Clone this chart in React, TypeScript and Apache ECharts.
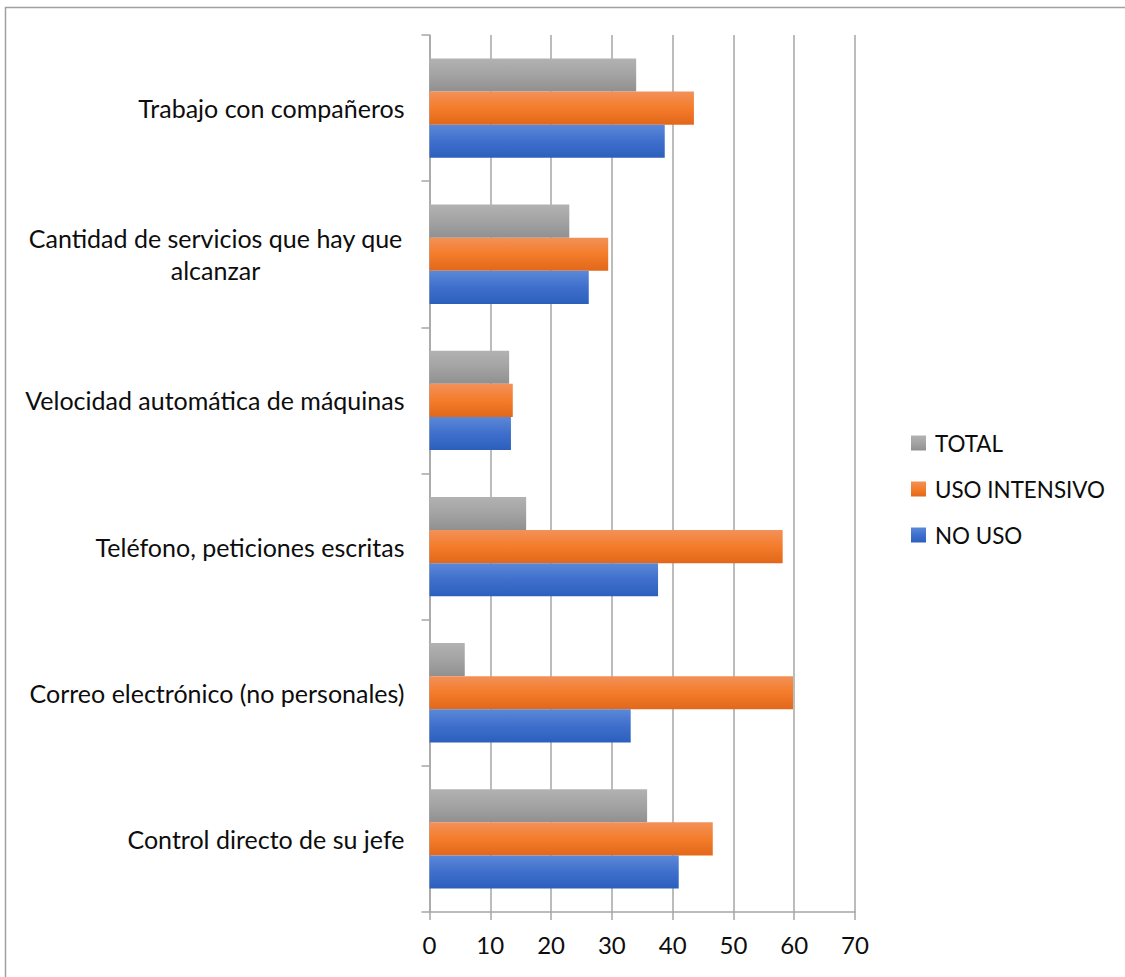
import React, { useEffect, useRef } from 'react';
import * as echarts from 'echarts';

const categories = [
  'Control directo de su jefe',
  'Correo electrónico (no personales)',
  'Teléfono, peticiones escritas',
  'Velocidad automática de máquinas',
  'Cantidad de servicios que hay que\nalcanzar',
  'Trabajo con compañeros',
];
const seriesNames = ['TOTAL', 'USO INTENSIVO', 'NO USO'];
const total = [35.8, 5.8, 15.9, 13.1, 23.0, 34.0];
const usoIntensivo = [46.6, 59.8, 58.1, 13.7, 29.4, 43.5];
const noUso = [41.0, 33.1, 37.6, 13.4, 26.2, 38.7];
const xMin = 0;
const xMax = 70;
const xStep = 10;

const FONT = 'Lato';
const TEXT = '#0d0d0d';
const GRID = '#a6a6a6';

const grad = (stops: [number, string][]) =>
  new echarts.graphic.LinearGradient(0, 0, 0, 1, stops.map(([offset, color]) => ({ offset, color })));

const blue = () => grad([[0, '#5b88d8'], [0.5, '#3f6fcc'], [1, '#2c5fbd']]);
const orange = () => grad([[0, '#f29159'], [0.5, '#f47c2a'], [1, '#e2671a']]);
const grey = () => grad([[0, '#b2b2b2'], [0.5, '#a3a3a3'], [1, '#909090']]);

export default function App() {
  const ref = useRef<HTMLDivElement>(null);
  useEffect(() => {
    document.body.style.margin = '0';
    const chart = echarts.init(ref.current!, undefined, { renderer: 'svg' });
    const data = [total, usoIntensivo, noUso];
    const colors = [grey, orange, blue];
    chart.setOption({
      animation: false,
      backgroundColor: '#ffffff',
      graphic: [
        {
          type: 'rect',
          left: 3,
          top: 5,
          shape: { x: 0, y: 0, width: 1200, height: 1100 },
          style: { fill: 'none', stroke: '#a0a0a0', lineWidth: 1.5 },
          silent: true,
        },
      ],
      grid: { left: 429.5, right: 270, top: 35, bottom: 65, containLabel: false },
      legend: {
        orient: 'vertical',
        left: 906,
        top: 427,
        data: ['TOTAL', 'USO INTENSIVO', 'NO USO'],
        icon: 'rect',
        itemWidth: 15,
        itemHeight: 15,
        itemGap: 24,
        textStyle: { fontFamily: FONT, fontSize: 22.4, color: TEXT, padding: [0, 0, 0, 4] },
      },
      xAxis: {
        type: 'value',
        min: xMin,
        max: xMax,
        interval: xStep,
        axisLine: { show: true, lineStyle: { color: GRID, width: 1.5 } },
        axisTick: { show: true, length: 8, lineStyle: { color: GRID, width: 1.5 } },
        splitLine: { show: true, lineStyle: { color: GRID, width: 1.5 } },
        axisLabel: { fontFamily: FONT, fontSize: 24, color: TEXT, margin: 20 },
      },
      yAxis: {
        type: 'category',
        data: categories,
        axisLine: { show: true, lineStyle: { color: GRID, width: 1.5 } },
        axisTick: { show: true, length: 8, lineStyle: { color: GRID, width: 1.5 } },
        axisLabel: {
          fontFamily: FONT,
          fontSize: 25,
          color: TEXT,
          margin: 25,
          align: 'right',
          formatter: (v: string) =>
            v.includes('\n') ? v.split('\n').map((l) => `{c|${l}}`).join('\n') : v,
          rich: {
            c: { fontFamily: FONT, fontSize: 25, color: TEXT, width: 378, align: 'center', lineHeight: 32 },
          },
        },
      },
      series: seriesNames.map((name, i) => ({
        name,
        type: 'bar',
        data: data[i],
        barGap: '0%',
        barCategoryGap: '32%',
        itemStyle: { color: colors[i]() },
      })),
    });
    return () => chart.dispose();
  }, []);
  return <div ref={ref} style={{ width: 1125, height: 977 }} />;
}
